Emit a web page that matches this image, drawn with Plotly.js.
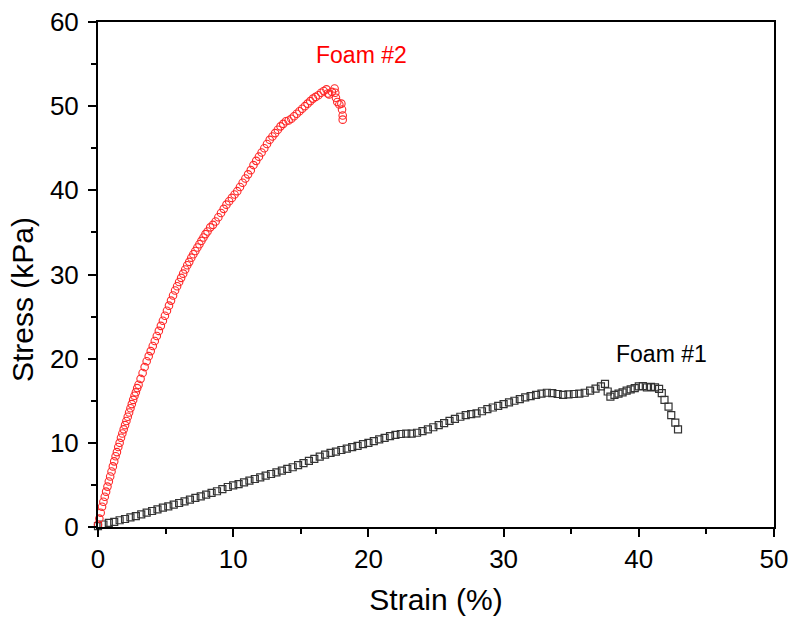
<!DOCTYPE html>
<html>
<head>
<meta charset="utf-8">
<script src="https://cdn.plot.ly/plotly-3.0.1.min.js"></script>
<style>body{margin:0;padding:0;background:#fff;} #chart{width:800px;height:630px;}</style>
</head>
<body>
<div id="chart"></div>
<script>
// Foam #1 (black open squares)
const foam1Strain = [0, 0.4, 0.8, 1.2, 1.6, 2.0, 2.4, 2.8, 3.2, 3.6, 4.0, 4.4, 4.8, 5.2, 5.6, 6.0, 6.4, 6.8, 7.2, 7.6, 8.0, 8.4, 8.8, 9.2, 9.6, 10.0, 10.4, 10.8, 11.2, 11.6, 12.0, 12.4, 12.8, 13.2, 13.6, 14.0, 14.4, 14.8, 15.2, 15.6, 16.0, 16.4, 16.8, 17.2, 17.6, 18.0, 18.4, 18.8, 19.2, 19.6, 20.0, 20.4, 20.8, 21.2, 21.6, 22.0, 22.4, 22.8, 23.2, 23.6, 24.0, 24.4, 24.8, 25.2, 25.6, 26.0, 26.4, 26.8, 27.2, 27.6, 28.0, 28.4, 28.8, 29.2, 29.6, 30.0, 30.4, 30.8, 31.2, 31.6, 32.0, 32.4, 32.8, 33.2, 33.6, 34.0, 34.4, 34.8, 35.2, 35.6, 36.0, 36.4, 36.8, 37.2, 37.5, 37.7, 37.9, 38.2, 38.5, 38.8, 39.1, 39.4, 39.7, 40.0, 40.3, 40.6, 40.9, 41.2, 41.5, 41.7, 41.9, 42.2, 42.4, 42.7, 42.9];
const foam1Stress = [0.1, 0.3, 0.5, 0.6, 0.8, 0.95, 1.15, 1.3, 1.5, 1.7, 1.9, 2.1, 2.3, 2.45, 2.65, 2.85, 3.05, 3.25, 3.45, 3.65, 3.85, 4.05, 4.25, 4.5, 4.75, 4.95, 5.1, 5.3, 5.5, 5.7, 5.9, 6.1, 6.3, 6.5, 6.7, 6.9, 7.1, 7.35, 7.6, 7.85, 8.1, 8.35, 8.6, 8.8, 8.95, 9.15, 9.3, 9.5, 9.65, 9.85, 10.0, 10.2, 10.4, 10.6, 10.8, 10.95, 11.05, 11.1, 11.1, 11.2, 11.4, 11.6, 11.85, 12.1, 12.35, 12.6, 12.85, 13.1, 13.3, 13.4, 13.5, 13.75, 14.0, 14.2, 14.4, 14.6, 14.8, 15.0, 15.2, 15.4, 15.55, 15.7, 15.85, 15.95, 15.9, 15.8, 15.7, 15.75, 15.8, 15.85, 15.95, 16.2, 16.45, 16.7, 17.0, 16.1, 15.5, 15.7, 15.85, 16.0, 16.2, 16.35, 16.5, 16.7, 16.75, 16.6, 16.65, 16.6, 16.4, 15.9, 15.1, 14.3, 13.3, 12.4, 11.6];

// Foam #2 (red open circles)
const foam2Strain = [0, 0.1, 0.2, 0.3, 0.4, 0.5, 0.6, 0.7, 0.8, 0.9, 1.0, 1.1, 1.2, 1.3, 1.4, 1.5, 1.6, 1.7, 1.8, 1.9, 2.0, 2.1, 2.2, 2.3, 2.4, 2.5, 2.6, 2.7, 2.8, 2.9, 3.0, 3.15, 3.3, 3.45, 3.6, 3.75, 3.9, 4.05, 4.2, 4.35, 4.5, 4.65, 4.8, 4.95, 5.1, 5.25, 5.4, 5.55, 5.7, 5.85, 6.0, 6.15, 6.3, 6.45, 6.6, 6.75, 6.9, 7.05, 7.2, 7.35, 7.5, 7.65, 7.8, 7.95, 8.1, 8.3, 8.5, 8.7, 8.9, 9.1, 9.3, 9.5, 9.7, 9.9, 10.1, 10.3, 10.5, 10.7, 10.9, 11.1, 11.3, 11.5, 11.7, 11.9, 12.1, 12.3, 12.5, 12.7, 12.9, 13.1, 13.3, 13.5, 13.7, 13.9, 14.1, 14.3, 14.5, 14.7, 14.9, 15.1, 15.3, 15.5, 15.7, 15.9, 16.1, 16.3, 16.5, 16.7, 16.9, 17.0, 17.1, 17.3, 17.5, 17.55, 17.6, 17.7, 17.85, 18.0, 18.05, 18.1, 18.1];
const foam2Stress = [0.3, 1.0, 1.7, 2.4, 3.0, 3.6, 4.2, 4.8, 5.4, 6.0, 6.6, 7.2, 7.8, 8.4, 8.9, 9.5, 10.0, 10.6, 11.1, 11.6, 12.1, 12.6, 13.1, 13.6, 14.1, 14.6, 15.1, 15.6, 16.0, 16.5, 16.9, 17.6, 18.3, 19.0, 19.7, 20.3, 20.9, 21.5, 22.1, 22.7, 23.3, 23.9, 24.5, 25.1, 25.7, 26.3, 26.9, 27.5, 28.1, 28.6, 29.1, 29.6, 30.1, 30.6, 31.1, 31.5, 32.0, 32.4, 32.8, 33.2, 33.6, 34.0, 34.4, 34.8, 35.1, 35.6, 35.9, 36.3, 36.8, 37.3, 37.8, 38.3, 38.7, 39.1, 39.5, 39.9, 40.4, 40.9, 41.4, 41.9, 42.4, 43.0, 43.5, 44.0, 44.5, 45.0, 45.5, 46.0, 46.4, 46.8, 47.2, 47.6, 47.9, 48.2, 48.3, 48.5, 48.8, 49.1, 49.4, 49.7, 50.0, 50.3, 50.6, 50.9, 51.1, 51.3, 51.6, 51.8, 52.0, 51.5, 51.4, 51.7, 52.1, 51.6, 51.0, 50.5, 50.2, 50.3, 49.6, 48.9, 48.4];

const seriesNames = ['Foam #1', 'Foam #2'];
const xTitle = 'Strain (%)';
const yTitle = 'Stress (kPa)';

const font = 'Liberation Sans, Arial, sans-serif';

const traces = [
  {
    x: foam1Strain, y: foam1Stress, name: seriesNames[0], type: 'scatter', mode: 'markers',
    marker: {symbol: 'square-open', size: 7, color: '#333', line: {width: 1.2, color: '#333'}},
    cliponaxis: false
  },
  {
    x: foam2Strain, y: foam2Stress, name: seriesNames[1], type: 'scatter', mode: 'markers',
    marker: {symbol: 'circle-open', size: 7.5, color: 'rgb(255,40,40)', line: {width: 1.1, color: 'rgb(255,40,40)'}},
    cliponaxis: false
  }
];

const axisCommon = {
  showgrid: false, zeroline: false, showline: true, linecolor: '#000', linewidth: 2,
  mirror: true, ticks: 'outside', ticklen: 8, tickwidth: 2, tickcolor: '#000',
  tickfont: {family: font, size: 26, color: '#000'},
  minor: {ticks: 'outside', ticklen: 5, tickwidth: 2, tickcolor: '#000', dtick: 5}
};

const layout = {
  width: 800, height: 630,
  margin: {l: 98, r: 26, t: 22, b: 103},
  paper_bgcolor: '#fff', plot_bgcolor: '#fff',
  showlegend: false,
  xaxis: Object.assign({}, axisCommon, {
    range: [0, 50], dtick: 10, tick0: 0,
    title: {text: xTitle, font: {family: font, size: 30, color: '#000'}, standoff: 16}
  }),
  yaxis: Object.assign({}, axisCommon, {
    range: [0, 60], dtick: 10, tick0: 0, ticklabelstandoff: 4,
    title: {text: '', font: {family: font, size: 30, color: '#000'}}
  }),
  annotations: [
    {x: 19.5, y: 56.1, xref: 'x', yref: 'y', text: seriesNames[1], showarrow: false,
     font: {family: font, size: 23, color: 'rgb(255,0,0)'}, xanchor: 'center', yanchor: 'middle'},
    {x: 41.7, y: 20.6, xref: 'x', yref: 'y', text: seriesNames[0], showarrow: false,
     font: {family: font, size: 23, color: '#000'}, xanchor: 'center', yanchor: 'middle'},
    {x: 0, y: 0, xref: 'paper', yref: 'paper', text: yTitle, showarrow: false, textangle: -90,
     font: {family: font, size: 30, color: '#000'}, xanchor: 'center', yanchor: 'middle'}
  ]
};
// y title placement (pixel position converted to paper coordinates)
(function(){
  const plotW = 800 - 98 - 26, plotH = 630 - 22 - 103;
  const a = layout.annotations[2];
  a.x = (22 - 98) / plotW;
  a.y = (630 - 103 - 300) / plotH;
})();

Plotly.newPlot('chart', traces, layout, {displayModeBar: false, staticPlot: true});
</script>
</body>
</html>
